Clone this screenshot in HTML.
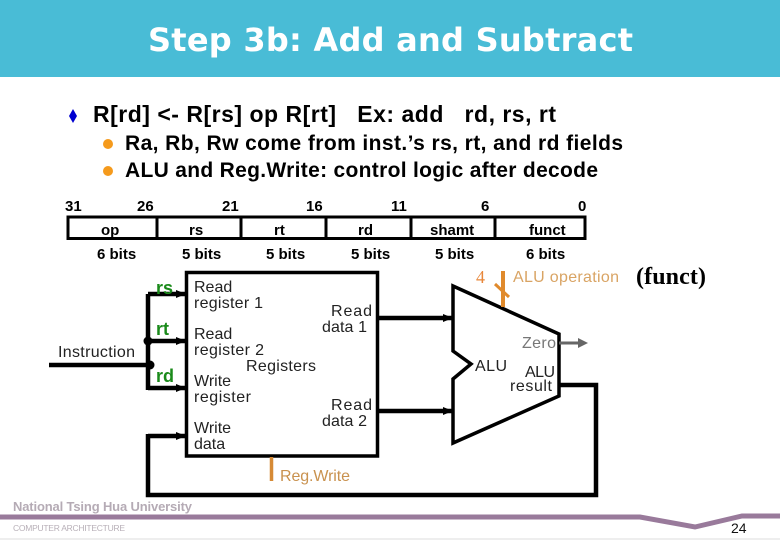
<!DOCTYPE html>
<html><head><meta charset="utf-8"><style>
html,body{margin:0;padding:0;background:#fff}
svg{display:block}
text{font-family:"Liberation Sans",sans-serif}
.b{font-weight:bold;font-size:15px;fill:#000}
.t{font-size:16px;fill:#222}
.g{font-weight:bold;font-size:18px;fill:#1a8a1a}
</style></head><body>
<svg width="780" height="540" viewBox="0 0 780 540" xmlns="http://www.w3.org/2000/svg">
<defs>
<marker id="a" markerUnits="userSpaceOnUse" markerWidth="12" markerHeight="10" refX="10" refY="4" orient="auto"><path d="M0 0L10 4L0 8z" fill="#000"/></marker>
</defs>
<rect width="780" height="540" fill="#fff"/>
<rect width="780" height="77" fill="#49bcd6"/>
<text x="148" y="51" textLength="485" lengthAdjust="spacing" style="font-family:'DejaVu Sans',sans-serif;font-weight:bold;font-size:32px" fill="#fff" xml:space="preserve">Step 3b: Add and Subtract</text>

<polygon points="73,109 77,116 73,123 69,116" fill="#0000d0"/>
<text x="93" y="122" textLength="463" lengthAdjust="spacing" fill="#000" xml:space="preserve" style="font-size:23px;font-weight:bold">R[rd] &lt;- R[rs] op R[rt]   Ex: add   rd, rs, rt</text>
<circle cx="108" cy="144" r="5" fill="#f59a1c"/>
<circle cx="108" cy="171" r="5" fill="#f59a1c"/>
<text x="125" y="150" textLength="498" lengthAdjust="spacing" style="font-size:21px;font-weight:bold">Ra, Rb, Rw come from inst.’s rs, rt, and rd fields</text>
<text x="125" y="177" textLength="473" lengthAdjust="spacing" style="font-size:21px;font-weight:bold">ALU and Reg.Write: control logic after decode</text>

<g class="b">
<text class="b" x="65" y="211">31</text><text class="b" x="137" y="211">26</text><text class="b" x="222" y="211">21</text><text class="b" x="306" y="211">16</text><text class="b" x="391" y="211">11</text><text class="b" x="481" y="211">6</text><text class="b" x="578" y="211">0</text>
<text class="b" x="101" y="235">op</text><text class="b" x="189" y="235">rs</text><text class="b" x="274" y="235">rt</text><text class="b" x="358" y="235">rd</text><text class="b" x="430" y="235">shamt</text><text class="b" x="529" y="235">funct</text>
<text class="b" x="97" y="259">6 bits</text><text class="b" x="182" y="259">5 bits</text><text class="b" x="266" y="259">5 bits</text><text class="b" x="351" y="259">5 bits</text><text class="b" x="435" y="259">5 bits</text><text class="b" x="526" y="259">6 bits</text>
</g>
<rect x="68" y="217" width="517" height="21.500" fill="none" stroke="#000" stroke-width="3"/>
<path d="M157 217V239M241 217V239M326 217V239M411 217V239M495 217V239" stroke="#000" stroke-width="3"/>

<rect x="186.500" y="272.500" width="191" height="183.500" fill="#fff" stroke="#000" stroke-width="3.500"/>
<g stroke="#000" stroke-width="4.500" fill="none">
<path d="M148 294H186" marker-end="url(#a)"/>
<path d="M148 341H186" marker-end="url(#a)"/>
<path d="M148 388H186" marker-end="url(#a)"/>
<path d="M148 294V390"/>
<path d="M49 365H148"/>
<path d="M148 436H186" marker-end="url(#a)"/>
<path d="M148 434V495H596V385H559"/>
<path d="M378 318H453" marker-end="url(#a)"/>
<path d="M378 411H453" marker-end="url(#a)"/>
</g>
<circle cx="148" cy="341" r="4.500" fill="#000"/>
<circle cx="150" cy="365" r="4.500" fill="#000"/>

<text class="g" x="156" y="294">rs</text>
<text class="g" x="156" y="335">rt</text>
<text class="g" x="156" y="382">rd</text>
<text class="t" x="58" y="357" textLength="77" lengthAdjust="spacing">Instruction</text>
<text class="t" x="194" y="292">Read</text><text class="t" x="194" y="308" textLength="69" lengthAdjust="spacing">register 1</text>
<text class="t" x="194" y="339">Read</text><text class="t" x="194" y="355" textLength="70" lengthAdjust="spacing">register 2</text>
<text class="t" x="194" y="386">Write</text><text class="t" x="194" y="402" textLength="57" lengthAdjust="spacing">register</text>
<text class="t" x="194" y="433">Write</text><text class="t" x="194" y="449">data</text>
<text class="t" x="246" y="371" textLength="70" lengthAdjust="spacing">Registers</text>
<text class="t" x="331" y="316" textLength="41" lengthAdjust="spacing">Read</text><text class="t" x="322" y="332" textLength="45" lengthAdjust="spacing">data 1</text>
<text class="t" x="331" y="410" textLength="41" lengthAdjust="spacing">Read</text><text class="t" x="322" y="426" textLength="45" lengthAdjust="spacing">data 2</text>

<path d="M271.500 457V481" stroke="#d68a35" stroke-width="3.500"/>
<text x="280" y="481" textLength="70" lengthAdjust="spacing" style="font-size:16px" fill="#c9924f">Reg.Write</text>

<polygon points="453,286 559,334 559,396 453,443 453,379 471,364 453,351" fill="#fff" stroke="#000" stroke-width="3.500"/>
<path d="M503 271V307" stroke="#e08a2c" stroke-width="4"/>
<path d="M495 284L509 297" stroke="#e08a2c" stroke-width="3"/>
<text x="476" y="283" style="font-family:'Liberation Serif',serif;font-size:18px" fill="#e8873a">4</text>
<text x="513" y="282" textLength="106" lengthAdjust="spacing" style="font-size:16px" fill="#d9a464">ALU operation</text>
<text x="636" y="284" textLength="70" lengthAdjust="spacing" style="font-family:'Liberation Serif',serif;font-size:24px;font-weight:bold" fill="#000">(funct)</text>
<text x="522" y="348" textLength="34" lengthAdjust="spacing" style="font-size:16px" fill="#777">Zero</text>
<path d="M559 343H578" stroke="#666" stroke-width="3"/>
<polygon points="578,338 588,343 578,348" fill="#666"/>
<text x="475" y="371" textLength="32" lengthAdjust="spacing" class="t">ALU</text>
<text x="525" y="377" textLength="30" lengthAdjust="spacing" class="t">ALU</text>
<text x="510" y="391" textLength="42" lengthAdjust="spacing" class="t">result</text>

<text x="13" y="511" textLength="179" lengthAdjust="spacing" style="font-size:13px;font-weight:bold" fill="#b5abb5">National Tsing Hua University</text>
<polyline points="0,517 640,517 695,527 742,516 780,516" fill="none" stroke="#997a9b" stroke-width="5"/>
<text x="13" y="531" textLength="112" lengthAdjust="spacing" style="font-size:8.500px" fill="#b8b0b8">COMPUTER  ARCHITECTURE</text>
<text x="731" y="533" style="font-size:14px" fill="#111">24</text>
<path d="M0 539H780" stroke="#eee" stroke-width="2"/>
</svg>
</body></html>
